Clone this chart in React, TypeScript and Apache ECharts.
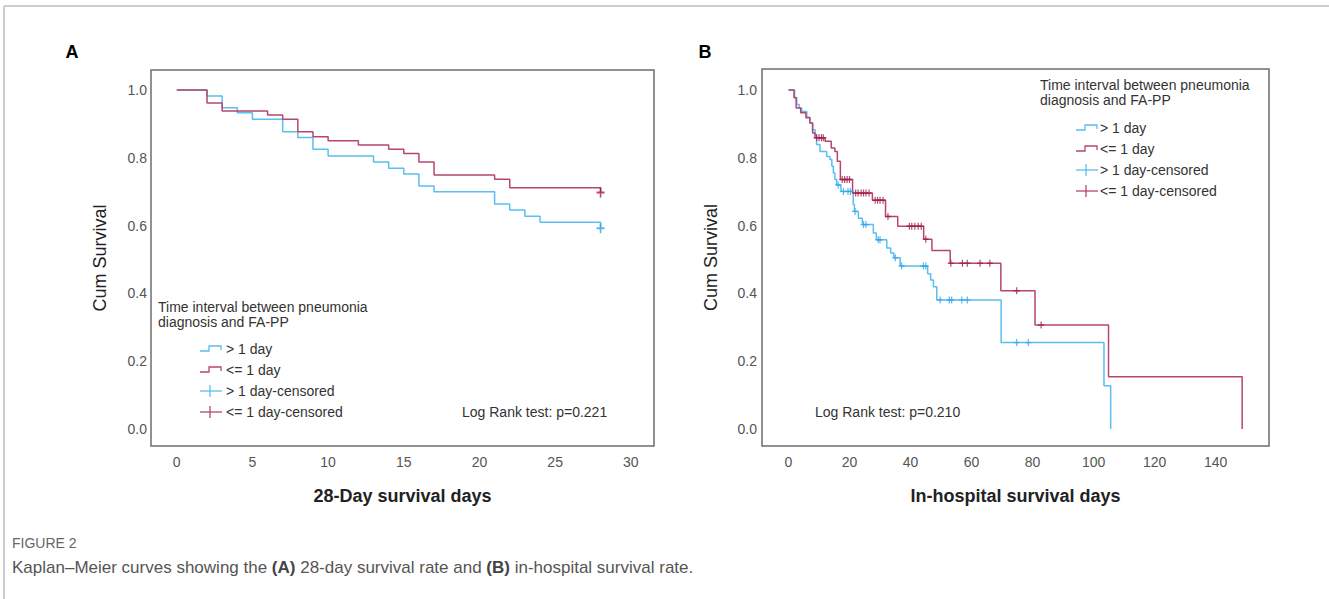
import React, { useEffect, useRef } from "react";
import * as echarts from "echarts";

const FONT = "'Liberation Sans', Arial, Helvetica, sans-serif";
const BLUE = "#5bbdf0";
const RED = "#b8456f";
const BLUE_C = "#2ea5e8";
const RED_C = "#9e1f4b";

// ---------- Panel A: 28-day survival ----------
const aXTicks = [0, 5, 10, 15, 20, 25, 30];
const survTicks = [0, 0.2, 0.4, 0.6, 0.8, 1.0];
const aGt1Days = [0, 2, 3, 4, 5, 7, 8, 9, 10, 13, 14, 15, 16, 17, 21, 22, 23, 24, 28];
const aGt1Surv = [1.0, 0.982, 0.948, 0.933, 0.914, 0.877, 0.86, 0.825, 0.805, 0.788, 0.769, 0.752, 0.717, 0.7, 0.664, 0.646, 0.628, 0.61, 0.592];
const aLe1Days = [0, 2, 3, 6, 7, 8, 9, 10, 12, 14, 15, 16, 17, 21, 22, 28];
const aLe1Surv = [1.0, 0.962, 0.938, 0.926, 0.914, 0.877, 0.862, 0.85, 0.838, 0.825, 0.813, 0.788, 0.749, 0.737, 0.712, 0.698];
const aGt1Cens = [28];
const aLe1Cens = [28];

// ---------- Panel B: in-hospital survival ----------
const bXTicks = [0, 20, 40, 60, 80, 100, 120, 140];
const bGt1Days = [0, 2.0, 2.7, 3.5, 4.3, 6.0, 7.0, 7.9, 8.7, 9.2, 10.3, 12.5, 13.6, 14.2, 14.7, 15.2, 15.8, 17.2, 21.2, 21.6, 22.9, 24.2, 27.8, 28.8, 32.2, 33.5, 34.5, 36.6, 45.6, 46.6, 47.5, 48.6, 69.7, 103.4, 105.6];
const bGt1Surv = [1.0, 0.978, 0.957, 0.947, 0.937, 0.92, 0.903, 0.883, 0.869, 0.839, 0.819, 0.804, 0.795, 0.775, 0.755, 0.736, 0.72, 0.701, 0.662, 0.642, 0.622, 0.603, 0.578, 0.558, 0.534, 0.519, 0.505, 0.481, 0.458, 0.44, 0.42, 0.381, 0.255, 0.128, 0.0];
const bGt1Cens = [16.3, 18.0, 19.5, 20.3, 21.8, 24.6, 25.4, 29.4, 30.0, 35.0, 37.1, 44.2, 45.0, 49.7, 52.7, 53.5, 56.8, 58.6, 74.8, 78.6];
const bLe1Days = [0, 1.8, 2.5, 4.0, 5.7, 7.0, 7.9, 8.7, 12.0, 14.0, 15.2, 16.0, 17.0, 21.0, 27.5, 31.8, 35.8, 44.3, 47.0, 53.0, 69.6, 80.8, 104.9, 148.7];
const bLe1Surv = [1.0, 0.977, 0.947, 0.933, 0.918, 0.903, 0.873, 0.859, 0.849, 0.829, 0.819, 0.79, 0.736, 0.696, 0.675, 0.627, 0.598, 0.56, 0.527, 0.489, 0.408, 0.307, 0.154, 0.0];
const bLe1Cens = [9.2, 10.0, 10.8, 11.4, 17.6, 18.4, 19.2, 20.0, 22.0, 22.8, 23.8, 24.6, 25.4, 26.4, 28.4, 29.2, 30.0, 31.0, 32.6, 39.6, 40.4, 41.4, 42.5, 43.5, 45.0, 53.2, 57.0, 58.6, 62.8, 66.0, 74.8, 82.8];

const legendTitle = ["Time interval between pneumonia", "diagnosis and FA-PP"];
const legendNames = ["> 1 day", "<= 1 day", "> 1 day-censored", "<= 1 day-censored"];
const pA = "Log Rank test: p=0.221";
const pB = "Log Rank test: p=0.210";

const PLUS = "path://M4,0H6V4H10V6H6V10H4V6H0V4H4Z";

function pairs(days: number[], surv: number[]) {
  return days.map((d, i) => [d, surv[i]]);
}
function survAt(days: number[], surv: number[], t: number) {
  let v = surv[0];
  for (let i = 0; i < days.length; i++) if (days[i] <= t) v = surv[i];
  return v;
}
function censPoints(cens: number[], days: number[], surv: number[]) {
  return cens.map((t) => [t, survAt(days, surv, t)]);
}

function legendEls(hx: number, hy: number, ix: number, tx: number, rows: number[]) {
  const els: any[] = [];
  legendTitle.forEach((t, i) => {
    els.push({
      type: "text", x: hx, y: hy + i * 15,
      style: { text: t, fontSize: 14, fontFamily: FONT, fill: "#333", align: "left", verticalAlign: "middle", textAlign: "left", textVerticalAlign: "middle" },
    });
  });
  const cols = [BLUE, RED, BLUE, RED];
  rows.forEach((ry, i) => {
    if (i < 2) {
      els.push({
        type: "polyline",
        shape: { points: [[ix, ry + 2], [ix + 9, ry + 2], [ix + 9, ry - 3], [ix + 21, ry - 3], [ix + 21, ry + 1]] },
        style: { stroke: cols[i], lineWidth: 1.3, fill: "none" },
      });
    } else {
      els.push({ type: "line", shape: { x1: ix, y1: ry, x2: ix + 22, y2: ry }, style: { stroke: cols[i], lineWidth: 1.3 } });
      els.push({ type: "line", shape: { x1: ix + 10, y1: ry - 6, x2: ix + 10, y2: ry + 6 }, style: { stroke: cols[i], lineWidth: 1.3 } });
    }
    els.push({
      type: "text", x: tx, y: ry,
      style: { text: legendNames[i], fontSize: 14, fontFamily: FONT, fill: "#333", align: "left", verticalAlign: "middle", textAlign: "left", textVerticalAlign: "middle" },
    });
  });
  return els;
}

function txt(x: number, y: number, text: string, extra: any = {}) {
  return {
    type: "text", x, y,
    style: { text, fontSize: 14, fontFamily: FONT, fill: "#333", align: "left", verticalAlign: "middle", textAlign: "left", textVerticalAlign: "middle", ...extra },
  };
}

export default function App() {
  const ref = useRef<HTMLDivElement>(null);
  useEffect(() => {
    if (!ref.current) return;
    const chart = echarts.init(ref.current, undefined, { renderer: "svg" });
    const tickLabel = { color: "#555", fontSize: 14, fontFamily: FONT };
    const nameStyle = { color: "#222", fontSize: 18, fontFamily: FONT };
    const gridBase = { show: true, borderColor: "#6e6e6e", borderWidth: 1.5, backgroundColor: "transparent" };
    const hidden = { axisLine: { show: false }, axisTick: { show: false }, splitLine: { show: false } };
    const line = (name: string, data: any, color: string, idx: number) => ({
      name, type: "line", step: "end", data, xAxisIndex: idx, yAxisIndex: idx,
      showSymbol: false, symbol: "none", lineStyle: { color, width: 1.5 }, itemStyle: { color }, z: 2,
    });
    const cens = (name: string, data: any, color: string, idx: number, size: number[]) => ({
      name, type: "scatter", data, xAxisIndex: idx, yAxisIndex: idx,
      symbol: PLUS, symbolSize: size, itemStyle: { color }, z: 3,
    });
    const option: any = {
      animation: false,
      backgroundColor: "#ffffff",
      grid: [
        { left: 151, top: 70, width: 503, height: 376, ...gridBase },
        { left: 762, top: 69, width: 507, height: 377, ...gridBase },
      ],
      xAxis: [
        {
          type: "value", gridIndex: 0, min: -1.7, max: 31.53, ...hidden,
          axisLabel: { customValues: aXTicks, margin: 9, ...tickLabel },
          name: "28-Day survival days", nameLocation: "middle", nameGap: 41,
          nameTextStyle: { ...nameStyle, fontWeight: "bold" },
        },
        {
          type: "value", gridIndex: 1, min: -8.69, max: 157.5, ...hidden,
          axisLabel: { customValues: bXTicks, margin: 9, ...tickLabel },
          name: "In-hospital survival days", nameLocation: "middle", nameGap: 41,
          nameTextStyle: { ...nameStyle, fontWeight: "bold" },
        },
      ],
      yAxis: [
        {
          type: "value", gridIndex: 0, min: -0.05, max: 1.059, ...hidden,
          axisLabel: { customValues: survTicks, margin: 4, formatter: (v: number) => v.toFixed(1), ...tickLabel },
          name: "Cum Survival", nameLocation: "middle", nameGap: 42, nameTextStyle: nameStyle,
        },
        {
          type: "value", gridIndex: 1, min: -0.05, max: 1.062, ...hidden,
          axisLabel: { customValues: survTicks, margin: 5, formatter: (v: number) => v.toFixed(1), ...tickLabel },
          name: "Cum Survival", nameLocation: "middle", nameGap: 42, nameTextStyle: nameStyle,
        },
      ],
      series: [
        line("> 1 day", pairs(aGt1Days, aGt1Surv), BLUE, 0),
        line("<= 1 day", pairs(aLe1Days, aLe1Surv), RED, 0),
        cens("> 1 day-censored", censPoints(aGt1Cens, aGt1Days, aGt1Surv), BLUE_C, 0, [8, 10]),
        cens("<= 1 day-censored", censPoints(aLe1Cens, aLe1Days, aLe1Surv), RED_C, 0, [8, 10]),
        line("> 1 day", pairs(bGt1Days, bGt1Surv), BLUE, 1),
        line("<= 1 day", pairs(bLe1Days, bLe1Surv), RED, 1),
        cens("> 1 day-censored", censPoints(bGt1Cens, bGt1Days, bGt1Surv), BLUE_C, 1, [6, 7]),
        cens("<= 1 day-censored", censPoints(bLe1Cens, bLe1Days, bLe1Surv), RED_C, 1, [6, 7]),
      ],
      graphic: [
        { type: "line", shape: { x1: 4, y1: 6, x2: 1329, y2: 6 }, style: { stroke: "#bdbdbd", lineWidth: 1.5 } },
        { type: "line", shape: { x1: 4, y1: 6, x2: 4, y2: 599 }, style: { stroke: "#bdbdbd", lineWidth: 1.5 } },
        txt(72, 52, "A", { fontSize: 18, fontWeight: "bold", fill: "#000", align: "center", textAlign: "center" }),
        txt(705, 52, "B", { fontSize: 18, fontWeight: "bold", fill: "#000", align: "center", textAlign: "center" }),
        ...legendEls(158, 307, 200, 226, [349, 370, 391, 412]),
        ...legendEls(1040, 85, 1076, 1100, [128, 149, 170, 191]),
        txt(462, 412, pA),
        txt(815, 412, pB),
        txt(12, 543, "FIGURE 2", { fontSize: 14, fill: "#666" }),
        {
          type: "text", x: 12, y: 567,
          style: {
            text: "Kaplan\u2013Meier curves showing the {b|(A)} 28-day survival rate and {b|(B)} in-hospital survival rate.",
            fontSize: 17, fontFamily: FONT, fill: "#555",
            align: "left", verticalAlign: "middle", textAlign: "left", textVerticalAlign: "middle",
            rich: { b: { fontSize: 17, fontFamily: FONT, fontWeight: "bold", fill: "#444" } },
          },
        },
      ],
    };
    chart.setOption(option);
    return () => chart.dispose();
  }, []);
  return (
    <div
      ref={ref}
      style={{ position: "fixed", left: 0, top: 0, width: 1329, height: 599, background: "#fff" }}
    />
  );
}
